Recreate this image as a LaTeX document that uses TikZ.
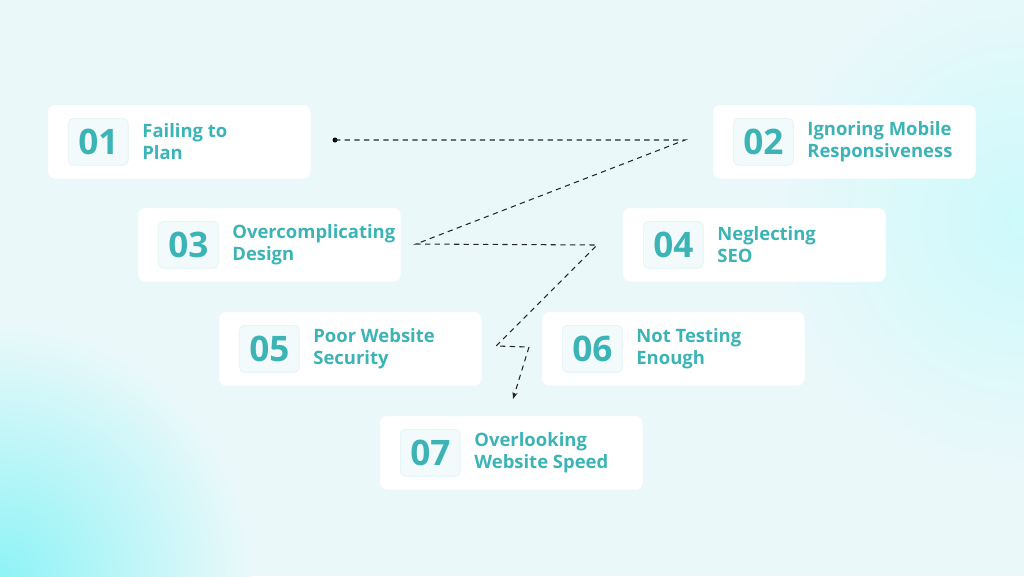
\documentclass[tikz,border=0pt]{standalone}
\usepackage{fontspec}
\setsansfont{Open Sans}
\usetikzlibrary{arrows.meta}
\definecolor{teal1}{HTML}{3CB4B6}
\definecolor{bgA}{HTML}{EAF8FA}
\definecolor{bgB}{HTML}{8EF3F6}
\begin{document}
\begin{tikzpicture}[x=0.02cm, y=-0.02cm,
    card/.style={draw=white, fill=white, rounded corners=4pt,
      minimum width=5.24cm, minimum height=1.46cm},
    numbox/.style={draw=teal1!15, fill=teal1!6, rounded corners=3pt,
      minimum width=1.2cm, minimum height=0.94cm, text=teal1,
      font=\sffamily\bfseries\fontsize{20}{20}\selectfont},
    label/.style={anchor=west, align=left, text=teal1,
      font=\sffamily\bfseries\fontsize{10.5}{12.5}\selectfont},
    link/.style={dash pattern=on 3pt off 2.5pt, semithick, black!85}]
  % background
  \useasboundingbox (0,0) rectangle (1024,576);
  \begin{scope}
    \clip (0,0) rectangle (1024,576);
    \fill[bgA] (0,0) rectangle (1024,576);
    \shade[inner color=bgB, outer color=bgA] (0,576) circle [radius=5cm];
    \shade[inner color=bgB!45, outer color=bgA] (1024,220) circle [radius=5cm];
  \end{scope}
  % cards
  \foreach \n/\x/\y/\txt in {01/48/105/{Failing to\\Plan},
      02/713/105/{Ignoring Mobile\\Responsiveness},
      03/138/208/{Overcomplicating\\Design},
      04/623/208/{Neglecting\\SEO},
      05/219/312/{Poor Website\\Security},
      06/542/312/{Not Testing\\Enough},
      07/380/416/{Overlooking\\Website Speed}} {
    \node[card, anchor=north west] (c\n) at (\x,\y) {};
    \node[numbox, anchor=west] (n\n) at ([xshift=0.4cm]c\n.west) {\n};
    \node[label] (t\n) at ([xshift=0.15cm]n\n.east) {\txt};
  }
  % path
  \coordinate (p1) at (335,140);
  \coordinate (p2) at (685,140);
  \coordinate (p3) at (416,244);
  \coordinate (p4) at (597,245);
  \coordinate (p5) at (496,346);
  \coordinate (p6) at (529,347);
  \coordinate (p7) at (513,399);
  \fill (p1) circle [radius=0.05cm];
  \draw[link, -{Stealth[length=4pt]}] (p1) -- (p2) -- (p3) -- (p4) -- (p5) -- (p6) -- (p7);
\end{tikzpicture}
\end{document}
